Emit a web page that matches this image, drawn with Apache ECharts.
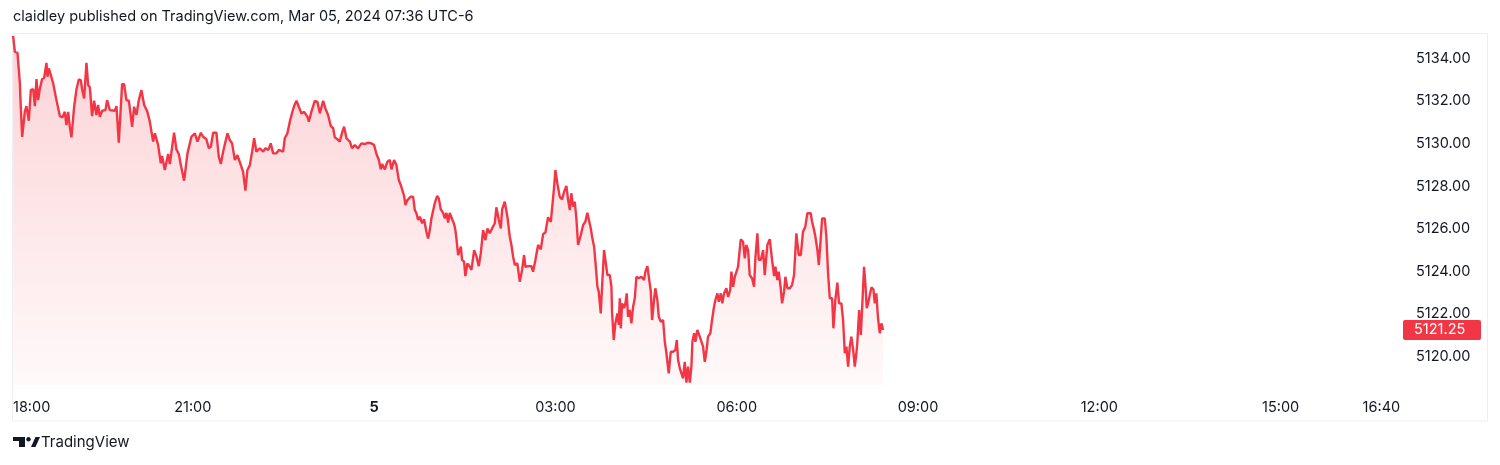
<!DOCTYPE html>
<html><head><meta charset="utf-8">
<script src="https://cdn.jsdelivr.net/npm/echarts@6/dist/echarts.min.js"></script>
<style>html,body{margin:0;padding:0;background:#fff}#c{width:1500px;height:465px}</style>
</head><body><div id="c"></div>
<script>
// minutes relative to 00:00 on Mar 5 (negative = Mar 4 evening)
const times = [-356.9,-355.2,-352.6,-350.2,-349.6,-347.9,-345.3,-343.7,-341.3,-339.3,-337.0,-335.3,-333.7,-332.1,-330.4,-328.1,-326.1,-323.8,-322.8,-321.4,-319.5,-317.2,-313.9,-310.5,-307.9,-305.6,-304.0,-302.3,-300.6,-299.0,-296.3,-294.0,-291.7,-289.7,-288.4,-286.4,-284.1,-282.4,-280.7,-278.5,-276.5,-274.2,-272.5,-270.8,-268.5,-265.2,-263.6,-260.9,-255.9,-254.3,-252.0,-248.7,-246.7,-244.4,-242.0,-238.7,-236.8,-234.5,-232.1,-229.5,-226.8,-223.6,-221.2,-217.9,-216.2,-212.9,-210.3,-209.0,-206.3,-203.0,-201.3,-199.0,-197.1,-194.8,-192.4,-190.4,-187.1,-183.8,
-179.9,-176.5,-173.9,-170.5,-168.3,-165.0,-162.6,-160.6,-158.3,-155.1,-152.7,-150.7,-148.4,-146.1,-144.1,-141.8,-139.5,-136.8,-134.2,-130.8,-128.6,-126.3,-124.3,-121.9,-119.6,-117.6,-115.4,-112.0,-108.7,-106.4,-103.7,-101.1,-98.8,-95.5,-93.1,-88.8,-87.2,-84.6,-82.2,-79.9,-77.9,-75.6,-73.3,-70.7,-68.0,-64.7,-63.3,-60.8,-57.4,-54.8,-52.4,-49.1,-46.9,-44.2,-41.5,-39.2,-37.5,-34.9,-32.6,-30.3,-28.3,-26.0,-22.6,-20.4,-17.7,-14.4,-11.1,-7.7,-4.5,
-1.2,1.5,3.8,6.2,8.1,9.4,12.1,14.7,17.1,18.7,21.3,23.6,26.0,28.0,29.3,31.3,32.6,34.5,37.9,40.2,41.9,43.5,45.2,46.9,49.1,51.1,53.4,55.1,56.8,58.4,60.1,61.7,64.0,65.7,67.7,70.0,71.7,73.3,75.0,76.6,78.2,80.9,82.2,83.2,84.9,87.6,88.8,90.8,92.1,94.1,96.5,98.1,100.8,103.0,105.4,107.4,109.7,112.0,114.0,116.3,118.6,121.3,122.9,125.3,127.3,128.6,131.2,133.8,136.2,137.8,139.5,141.2,143.7,146.1,148.4,150.4,151.7,155.1,157.6,159.3,161.6,164.3,167.0,169.3,171.5,174.2,
176.9,178.2,180.2,181.5,183.4,185.8,188.1,190.1,192.4,194.1,195.8,197.3,199.0,200.7,202.3,204.0,206.7,209.0,211.2,213.2,214.6,216.6,217.9,219.9,221.2,223.2,224.5,226.5,227.8,229.8,231.1,233.1,235.5,237.1,237.7,239.4,241.0,243.0,244.4,245.4,246.4,247.7,249.7,251.0,252.3,253.6,255.3,256.9,258.6,260.3,261.9,264.3,266.8,269.5,270.8,272.8,274.5,276.2,277.5,279.4,280.7,282.7,284.1,286.1,288.4,290.1,291.7,294.0,296.0,298.3,300.6,302.0,303.3,305.0,306.5,308.2,309.9,311.5,313.2,314.9,316.5,317.5,319.2,320.5,322.4,324.8,326.4,328.1,329.8,331.4,333.0,335.3,337.0,338.7,340.3,342.3,343.7,345.7,347.2,348.9,351.2,353.0,
355.0,356.2,357.9,359.6,361.1,362.8,364.5,365.5,367.8,369.5,371.1,372.8,374.4,376.7,378.7,380.0,382.0,383.4,385.4,387.7,389.3,391.9,394.3,396.6,398.6,399.9,401.8,403.2,405.2,406.5,408.5,409.8,411.8,414.2,416.4,418.4,420.7,423.1,425.1,427.3,429.6,431.6,435.0,436.3,438.3,439.6,441.6,443.0,444.9,446.3,448.9,450.5,452.2,453.9,456.2,457.5,459.4,461.4,463.1,465.4,467.1,468.8,470.4,472.1,473.7,475.3,477.1,478.7,480.3,481.3,483.0,484.7,486.3,487.9,489.2,490.6,491.9,493.6,495.2,497.2,498.6,500.1,501.8,503.5,505.1,506.8];
const prices = [5135.05,5134.31,5134.26,5132.84,5132.04,5130.31,5131.49,5131.76,5131.07,5132.51,5132.56,5131.76,5133.03,5132.04,5132.56,5133.03,5133.08,5133.79,5133.14,5133.53,5133.48,5132.84,5132.04,5131.29,5131.23,5131.49,5130.87,5131.49,5130.79,5130.29,5131.73,5132.55,5133.01,5132.98,5132.55,5132.12,5133.79,5132.75,5132.64,5131.29,5132.01,5131.34,5131.81,5131.26,5131.54,5131.57,5132.04,5131.57,5131.54,5131.76,5130.04,5132.79,5132.79,5132.04,5132.01,5130.79,5131.73,5131.34,5132.04,5132.51,5131.81,5131.49,5131.03,5130.09,5130.48,5129.93,5129.07,5129.42,5128.76,5129.51,5129.04,5129.85,5130.51,5129.73,5129.51,5128.99,5128.26,5129.54,
5130.32,5130.48,5130.09,5130.51,5130.32,5130.20,5129.78,5129.85,5130.51,5130.51,5129.38,5129.04,5129.62,5130.09,5130.48,5130.17,5130.01,5129.23,5129.46,5128.99,5128.68,5127.79,5128.76,5128.99,5129.62,5130.25,5129.62,5129.78,5129.62,5129.78,5129.70,5130.01,5129.54,5129.54,5129.70,5129.62,5130.25,5130.48,5131.03,5131.45,5131.76,5132.01,5131.73,5131.42,5131.49,5131.26,5131.03,5131.49,5132.01,5131.96,5131.42,5132.01,5131.65,5131.34,5130.82,5130.72,5130.29,5130.20,5130.09,5130.51,5130.79,5130.25,5130.09,5129.78,5129.93,5129.78,5130.01,5129.98,5130.04,
5130.01,5129.93,5129.51,5129.23,5128.79,5129.04,5128.79,5129.15,5129.23,5128.79,5129.23,5128.99,5128.29,5128.05,5128.13,5127.54,5127.12,5127.35,5127.51,5127.51,5126.88,5126.73,5126.41,5126.57,5126.26,5126.45,5125.86,5125.55,5125.94,5126.49,5126.54,5127.20,5127.54,5127.43,5126.91,5126.75,5126.49,5126.75,5126.29,5126.75,5126.54,5126.22,5125.94,5125.55,5124.77,5125.16,5124.54,5124.46,5123.78,5124.38,5124.22,5124.07,5125.00,5124.72,5124.25,5124.85,5125.94,5125.47,5126.02,5125.79,5126.02,5126.26,5127.01,5126.41,5126.02,5126.91,5127.27,5126.57,5125.63,5125.24,5124.69,5124.30,5124.38,5123.52,5124.07,5124.77,5124.22,5124.25,5124.25,5123.99,5124.54,5125.24,5125.04,5125.76,5125.82,5126.54,
5126.33,5126.96,5127.97,5128.76,5128.13,5127.51,5127.38,5127.74,5128.01,5127.35,5126.88,5127.67,5127.04,5127.27,5126.49,5125.24,5125.71,5126.18,5126.33,5126.75,5126.75,5126.02,5125.63,5125.16,5124.46,5123.28,5123.05,5122.03,5123.28,5125.00,5124.54,5123.83,5123.83,5123.28,5122.11,5120.78,5121.56,5122.03,5121.49,5122.74,5121.33,5122.50,5122.27,5122.50,5122.97,5121.87,5122.19,5121.56,5122.34,5122.74,5123.75,5123.68,5123.75,5123.60,5123.99,5124.25,5124.22,5123.05,5121.72,5122.66,5123.21,5122.66,5121.87,5121.64,5121.72,5120.70,5120.16,5119.22,5120.23,5120.23,5120.31,5120.78,5119.84,5119.45,5119.53,5118.98,5119.76,5118.78,5119.53,5118.78,5119.53,5120.70,5121.10,5120.70,5121.25,5120.94,5121.02,5120.47,5119.76,5120.23,5120.94,5121.10,5121.72,5122.27,5122.66,5122.97,5122.58,5122.97,5122.50,5122.97,5123.21,5122.80,
5123.13,5123.99,5123.28,5123.75,5123.83,5124.22,5124.15,5125.51,5125.39,5124.61,5125.24,5125.00,5123.83,5123.68,5123.28,5124.61,5125.79,5124.54,5124.54,5125.00,5123.83,5125.24,5125.51,5124.54,5123.78,5124.22,5123.60,5123.99,5123.21,5122.50,5123.05,5123.75,5123.21,5123.21,5123.36,5123.83,5125.79,5124.77,5124.77,5125.86,5126.10,5126.73,5126.73,5126.33,5125.94,5125.63,5125.00,5124.30,5124.30,5126.49,5126.49,5125.63,5123.91,5122.74,5122.74,5121.33,5122.66,5123.47,5122.50,5122.50,5121.72,5120.16,5120.47,5119.53,5120.47,5120.94,5120.31,5119.53,5120.16,5120.70,5122.19,5121.02,5122.58,5124.22,5123.44,5122.27,5122.50,5122.89,5123.25,5123.16,5122.50,5122.97,5121.80,5121.10,5121.56,5121.25];

const xTickValues = [-360,-180,0,180,360,540,720,900,1000];
const xTickLabels = ['18:00','21:00','5','03:00','06:00','09:00','12:00','15:00','16:40'];
const yTickValues = [5120,5122,5124,5126,5128,5130,5132,5134];
const lastPrice = prices[prices.length-1];
const titleText = 'claidley published on TradingView.com, Mar 05, 2024 07:36 UTC-6';

const FONT = 'Inter, "Noto Sans", sans-serif';
const FS = 14.5;
const TXT = '#131722';
const RED = '#f23645';

const data = times.map((t,i)=>[t, prices[i]]);
const chart = echarts.init(document.getElementById('c'), null, {renderer:'canvas'});
const baseGraphic = [
  {id:'frame',type:'rect',silent:true,z:-1,shape:{x:12.5,y:33.5,width:1475,height:387.5},style:{fill:'none',stroke:'#eceff4',lineWidth:1}},
  {id:'logo',type:'group',left:13,top:437,children:[
    {type:'rect',shape:{x:0,y:0,width:12,height:4},style:{fill:TXT}},
    {type:'rect',shape:{x:6,y:0,width:6,height:10},style:{fill:TXT}},
    {type:'circle',shape:{cx:15.5,cy:2.2,r:2.2},style:{fill:TXT}},
    {type:'polygon',shape:{points:[[18,10],[22.5,0],[27,0],[22.5,10]]},style:{fill:TXT}}
  ]},
  {id:'brand',type:'text',left:41,top:435,style:{text:'TradingView',fontFamily:FONT,fontSize:15,fill:TXT}}
];
chart.setOption({
  animation:false,
  backgroundColor:'#ffffff',
  title:{text:titleText,left:13,top:9,padding:0,textStyle:{fontFamily:FONT,fontSize:FS,fontWeight:'normal',color:TXT}},
  grid:{left:10,right:100,top:33,bottom:80,containLabel:false},
  xAxis:{type:'value',min:-360,max:1020,
    axisLine:{show:false},axisTick:{show:false},splitLine:{show:false},
    axisLabel:{customValues:xTickValues,alignMinLabel:'left',margin:15,padding:[0,0,0,3],
      fontFamily:FONT,fontSize:FS,color:TXT,
      formatter:(v)=>{const i=xTickValues.indexOf(v);const s=i>=0?xTickLabels[i]:'';return s==='5'?'{b|5}':s;},
      rich:{b:{fontWeight:'bold',fontFamily:FONT,fontSize:FS,color:TXT}}}},
  yAxis:{type:'value',position:'right',min:5118.67,max:5135.19,
    axisLine:{show:false},axisTick:{show:false},splitLine:{show:false},
    axisLabel:{customValues:yTickValues,margin:16,fontFamily:FONT,fontSize:FS,color:TXT,
      formatter:(v)=>v.toFixed(2)}},
  graphic:baseGraphic,
  series:[{type:'line',data:data,showSymbol:false,symbol:'none',
    lineStyle:{color:RED,width:2.4},
    areaStyle:{origin:'start',color:new echarts.graphic.LinearGradient(0,0,0,1,[
      {offset:0,color:'rgba(242,54,69,0.32)'},{offset:1,color:'rgba(242,54,69,0.04)'}])}
  }]
});
// last-price tag on the price scale, positioned through the axis scale
const py = chart.convertToPixel({yAxisIndex:0}, lastPrice);
const gx = chart.convertToPixel({xAxisIndex:0}, 1020);
chart.setOption({graphic:[
  {id:'tagBox',type:'rect',shape:{x:gx+3,y:py-10,width:78,height:20,r:2},style:{fill:RED},z:10},
  {id:'tagText',type:'text',x:gx+14,y:py,z:11,style:{text:lastPrice.toFixed(2),fontFamily:FONT,fontSize:FS,fill:'#ffffff',verticalAlign:'middle',align:'left'}}
]});
</script></body></html>
